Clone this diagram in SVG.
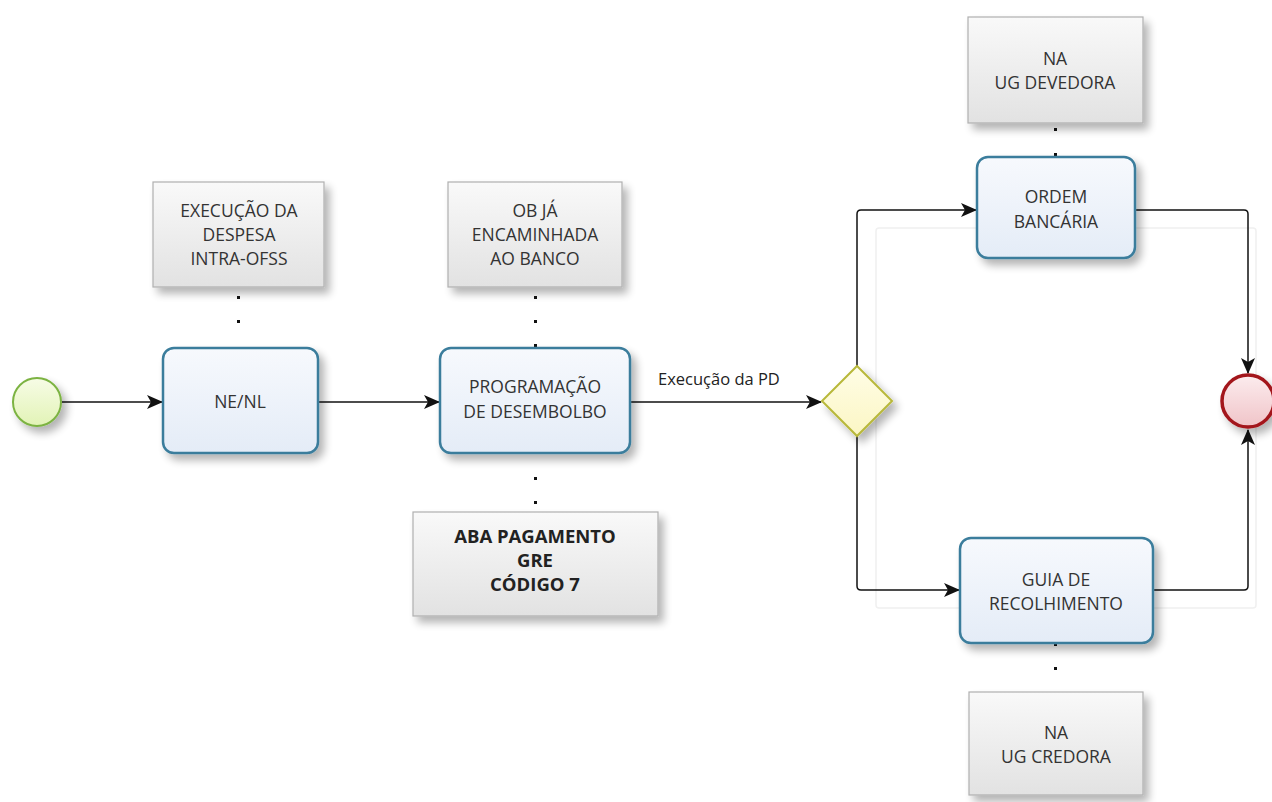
<svg xmlns="http://www.w3.org/2000/svg" width="1272" height="802" viewBox="0 0 1272 802">
<style>
.ann{fill:url(#gAnn);stroke:#b0b0b0;stroke-width:1.2;filter:url(#sh)}
.task{fill:url(#gTask);stroke:#3b7d9c;stroke-width:2.5;filter:url(#sh)}
.t{font-family:"Open Sans","Noto Sans",sans-serif;font-size:17.5px;fill:#333;text-anchor:middle}
.tb{font-family:"Open Sans","Noto Sans",sans-serif;font-size:18.5px;font-weight:bold;fill:#222;text-anchor:middle}
.lbl{font-family:"Open Sans","Noto Sans",sans-serif;font-size:16.5px;fill:#222}
.flow{fill:none;stroke:#111;stroke-width:1.5;marker-end:url(#arr)}
.dot{fill:#111}
</style>
<defs>
<linearGradient id="gAnn" x1="0" y1="0" x2="0" y2="1"><stop offset="0" stop-color="#f9f9f9"/><stop offset="1" stop-color="#e2e2e2"/></linearGradient>
<linearGradient id="gTask" x1="0" y1="0" x2="0" y2="1"><stop offset="0" stop-color="#f7f9fd"/><stop offset="1" stop-color="#e4ecf7"/></linearGradient>
<linearGradient id="gStart" x1="0" y1="0" x2="0" y2="1"><stop offset="0" stop-color="#f7fce6"/><stop offset="1" stop-color="#e2f3b6"/></linearGradient>
<linearGradient id="gEnd" x1="0" y1="0" x2="0" y2="1"><stop offset="0" stop-color="#fcecee"/><stop offset="1" stop-color="#f0c4c8"/></linearGradient>
<linearGradient id="gGw" x1="0" y1="0" x2="0" y2="1"><stop offset="0" stop-color="#fffde6"/><stop offset="1" stop-color="#fbf6c4"/></linearGradient>
<filter id="sh" x="-20%" y="-20%" width="150%" height="160%"><feGaussianBlur in="SourceAlpha" stdDeviation="4"/><feOffset dx="5" dy="6" result="b"/><feComponentTransfer><feFuncA type="linear" slope="0.3"/></feComponentTransfer><feMerge><feMergeNode/><feMergeNode in="SourceGraphic"/></feMerge></filter>
<marker id="arr" viewBox="0 0 16 14" refX="15" refY="7" markerWidth="16" markerHeight="14" markerUnits="userSpaceOnUse" orient="auto"><path d="M0,0 L16,7 L0,14 L4,7 Z" fill="#111"/></marker>
</defs>

<rect x="876" y="228" width="380" height="380" fill="none" stroke="#f0f0f0" stroke-width="1.5" rx="3"/>

<g id="connectors">
<path class="flow" d="M62,402 H162"/>
<path class="flow" d="M318,402 H439"/>
<path class="flow" d="M630,402 H821"/>
<path class="flow" d="M857,366 V214 Q857,210 861,210 H976"/>
<path class="flow" d="M857,436 V586 Q857,590 861,590 H959"/>
<path class="flow" d="M1135,210 H1244 Q1248,210 1248,214 V373"/>
<path class="flow" d="M1153,590 H1244 Q1248,590 1248,586 V430"/>
<text class="lbl" x="658" y="385">Execução da PD</text>
<rect class="dot" x="237" y="296" width="3" height="3"/>
<rect class="dot" x="237" y="320" width="3" height="3"/>
<rect class="dot" x="534" y="296" width="3" height="3"/>
<rect class="dot" x="534" y="320" width="3" height="3"/>
<rect class="dot" x="534" y="344" width="3" height="3"/>
<rect class="dot" x="534" y="477" width="3" height="3"/>
<rect class="dot" x="534" y="501" width="3" height="3"/>
<rect class="dot" x="1054" y="128" width="3" height="3"/>
<rect class="dot" x="1054" y="153" width="3" height="3"/>
<rect class="dot" x="1054" y="643" width="3" height="3"/>
<rect class="dot" x="1054" y="667" width="3" height="3"/>
</g>

<g id="start"><circle cx="37" cy="402" r="24" fill="url(#gStart)" stroke="#7cb342" stroke-width="2" filter="url(#sh)"/></g>

<g id="ann1"><rect class="ann" x="153" y="182" width="171" height="105"/>
<text class="t" x="239" y="217">EXECUÇÃO DA</text><text class="t" x="239" y="241">DESPESA</text><text class="t" x="239" y="265">INTRA-OFSS</text></g>

<g id="nenl"><rect class="task" x="163" y="348" width="155" height="105" rx="11"/>
<text class="t" x="240" y="408">NE/NL</text></g>

<g id="ann2"><rect class="ann" x="448" y="182" width="174" height="105"/>
<text class="t" x="535" y="217">OB JÁ</text><text class="t" x="535" y="241">ENCAMINHADA</text><text class="t" x="535" y="265">AO BANCO</text></g>

<g id="pd"><rect class="task" x="440" y="348" width="190" height="105" rx="11"/>
<text class="t" x="535" y="393">PROGRAMAÇÃO</text><text class="t" x="535" y="418">DE DESEMBOLBO</text></g>

<g id="ann3"><rect class="ann" x="413" y="512" width="245" height="104"/>
<text class="tb" x="535" y="543">ABA PAGAMENTO</text><text class="tb" x="535" y="567">GRE</text><text class="tb" x="535" y="591">CÓDIGO 7</text></g>

<g id="gateway"><path d="M857,366 L892,401 L857,436 L822,401 Z" fill="url(#gGw)" stroke="#b8b83a" stroke-width="2" filter="url(#sh)"/></g>

<g id="ann4"><rect class="ann" x="968" y="17" width="175" height="106"/>
<text class="t" x="1055" y="65">NA</text><text class="t" x="1055" y="89">UG DEVEDORA</text></g>

<g id="ob"><rect class="task" x="977" y="157" width="158" height="101" rx="11"/>
<text class="t" x="1056" y="203">ORDEM</text><text class="t" x="1056" y="228">BANCÁRIA</text></g>

<g id="gr"><rect class="task" x="960" y="538" width="193" height="105" rx="11"/>
<text class="t" x="1056" y="586">GUIA DE</text><text class="t" x="1056" y="610">RECOLHIMENTO</text></g>

<g id="ann5"><rect class="ann" x="969" y="692" width="174" height="103"/>
<text class="t" x="1056" y="739">NA</text><text class="t" x="1056" y="763">UG CREDORA</text></g>

<g id="end"><circle cx="1248" cy="401" r="26" fill="url(#gEnd)" stroke="#a3161b" stroke-width="3.5" filter="url(#sh)"/></g>
</svg>
